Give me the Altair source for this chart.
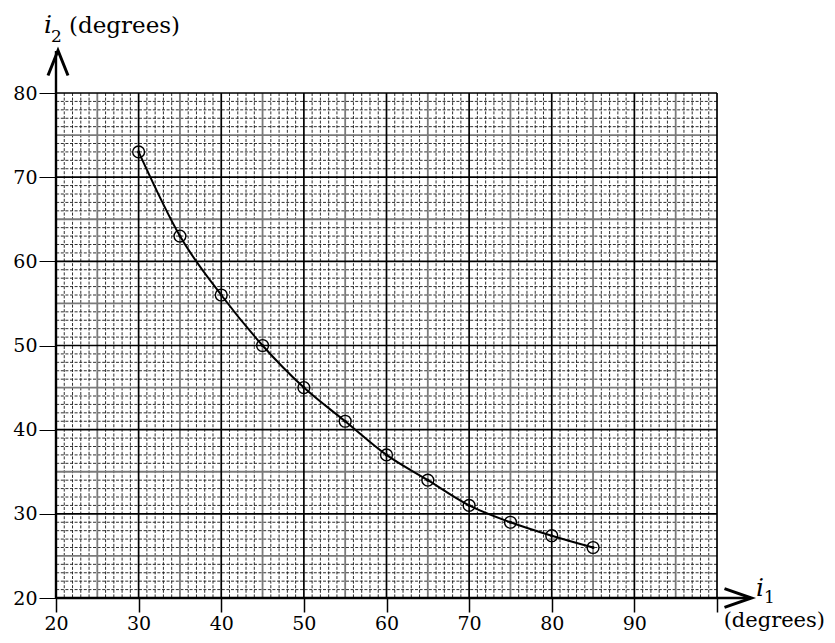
import altair as alt
import pandas as pd

# Data
i1 = [30, 35, 40, 45, 50, 55, 60, 65, 70, 75, 80, 85]
i2 = [73, 63, 56, 50, 45, 41, 37, 34, 31, 29, 27.4, 26]

x_ticks = [20, 30, 40, 50, 60, 70, 80, 90, 100]
y_ticks = [20, 30, 40, 50, 60, 70, 80]

x_minor = [v for v in range(20, 101) if v % 5 != 0]
y_minor = [v for v in range(20, 81) if v % 5 != 0]
x_half = [v for v in range(25, 101, 10)]
y_half = [v for v in range(25, 81, 10)]
x_major = [v for v in range(30, 101, 10)]
y_major = [v for v in range(30, 81, 10)]

FONT = "DejaVu Serif"
W, H = 661, 505

xscale = alt.Scale(domain=[20, 100], nice=False, zero=False)
yscale = alt.Scale(domain=[20, 80], nice=False, zero=False)

xaxis = alt.Axis(values=x_ticks, labelExpr="datum.value == 100 ? '' : datum.label",
                 title=None, grid=False, domain=False, tickSize=14, tickColor="black",
                 tickWidth=1.5, labelFont=FONT, labelFontSize=19, labelColor="black",
                 labelPadding=2, labelFlush=False)
yaxis = alt.Axis(values=y_ticks, title=None, grid=False, domain=False, tickSize=17,
                 tickColor="black", tickWidth=1, labelFont=FONT, labelFontSize=19,
                 labelColor="black", labelPadding=2)


def X(f):
    return alt.X(f"{f}:Q", scale=xscale, axis=xaxis)


def Y(f):
    return alt.Y(f"{f}:Q", scale=yscale, axis=yaxis)


df = pd.DataFrame({"i1": i1, "i2": i2})
one = alt.Data(values=[{"a": 1}])

vminor = alt.Chart(pd.DataFrame({"v": x_minor})).mark_rule(
    stroke="#1a1a1a", strokeWidth=0.9, strokeDash=[3, 1.6]).encode(x=X("v"))
hminor = alt.Chart(pd.DataFrame({"v": y_minor})).mark_rule(
    stroke="#1a1a1a", strokeWidth=0.9, strokeDash=[3, 1.6]).encode(y=Y("v"))
vhalf = alt.Chart(pd.DataFrame({"v": x_half})).mark_rule(
    stroke="#7a7a7a", strokeWidth=1.8).encode(x=X("v"))
hhalf = alt.Chart(pd.DataFrame({"v": y_half})).mark_rule(
    stroke="#7a7a7a", strokeWidth=1.8).encode(y=Y("v"))
vmajor = alt.Chart(pd.DataFrame({"v": x_major})).mark_rule(
    stroke="black", strokeWidth=1.7).encode(x=X("v"))
hmajor = alt.Chart(pd.DataFrame({"v": y_major})).mark_rule(
    stroke="black", strokeWidth=1.7).encode(y=Y("v"))

# axis lines extended to arrows
yline = alt.Chart(one).mark_rule(stroke="black", strokeWidth=2.4).encode(
    x=alt.value(0), y=alt.value(H), y2=alt.value(-42))
xline = alt.Chart(one).mark_rule(stroke="black", strokeWidth=2.4).encode(
    x=alt.value(0), x2=alt.value(W + 34), y=alt.value(H))
yarrow = alt.Chart(one).mark_point(
    shape="M-0.8,1L0,-1L0.8,1", filled=False, stroke="black", strokeWidth=3,
    size=625, opacity=1).encode(x=alt.value(2), y=alt.value(-30))
xarrow = alt.Chart(one).mark_point(
    shape="M-1,-0.7L1,0L-1,0.7", filled=False, stroke="black", strokeWidth=3,
    size=729, opacity=1).encode(x=alt.value(W + 21), y=alt.value(H))

curve = alt.Chart(df).mark_line(color="black", strokeWidth=2, interpolate="monotone").encode(
    x=X("i1"), y=Y("i2"))
circles = alt.Chart(df).mark_point(shape="circle", filled=False, stroke="black",
                                   strokeWidth=1.4, size=140, opacity=1).encode(
    x=X("i1"), y=Y("i2"))
dots = alt.Chart(df).mark_point(shape="circle", filled=True, color="black",
                                size=10, opacity=1).encode(x=X("i1"), y=Y("i2"))


def txt(s, x, y, size, italic=False, align="left"):
    return alt.Chart(one).mark_text(text=s, font=FONT, fontSize=size,
                                    fontStyle="italic" if italic else "normal",
                                    align=align, baseline="alphabetic",
                                    color="black").encode(x=alt.value(x), y=alt.value(y))


texts = [
    txt("i", -12, -60, 25, italic=True),
    txt("2", -5, -51, 17),
    txt("(degrees)", 13, -60, 23),
    txt("i", W + 39, H - 2, 25, italic=True),
    txt("1", W + 47, H + 5, 17),
    txt("(degrees)", W + 108, H + 29, 21, align="right"),
]

chart = alt.layer(
    vminor, hminor, vhalf, hhalf, vmajor, hmajor, yline, xline, yarrow, xarrow,
    curve, circles, dots, *texts
).properties(
    width=W, height=H,
    autosize=alt.AutoSizeParams(type="none"),
    padding={"left": 48, "top": 85, "right": 110, "bottom": 37},
).configure_view(stroke=None).configure(background="white")

chart.save("out.html", embed_options={"renderer": "svg", "actions": False})
